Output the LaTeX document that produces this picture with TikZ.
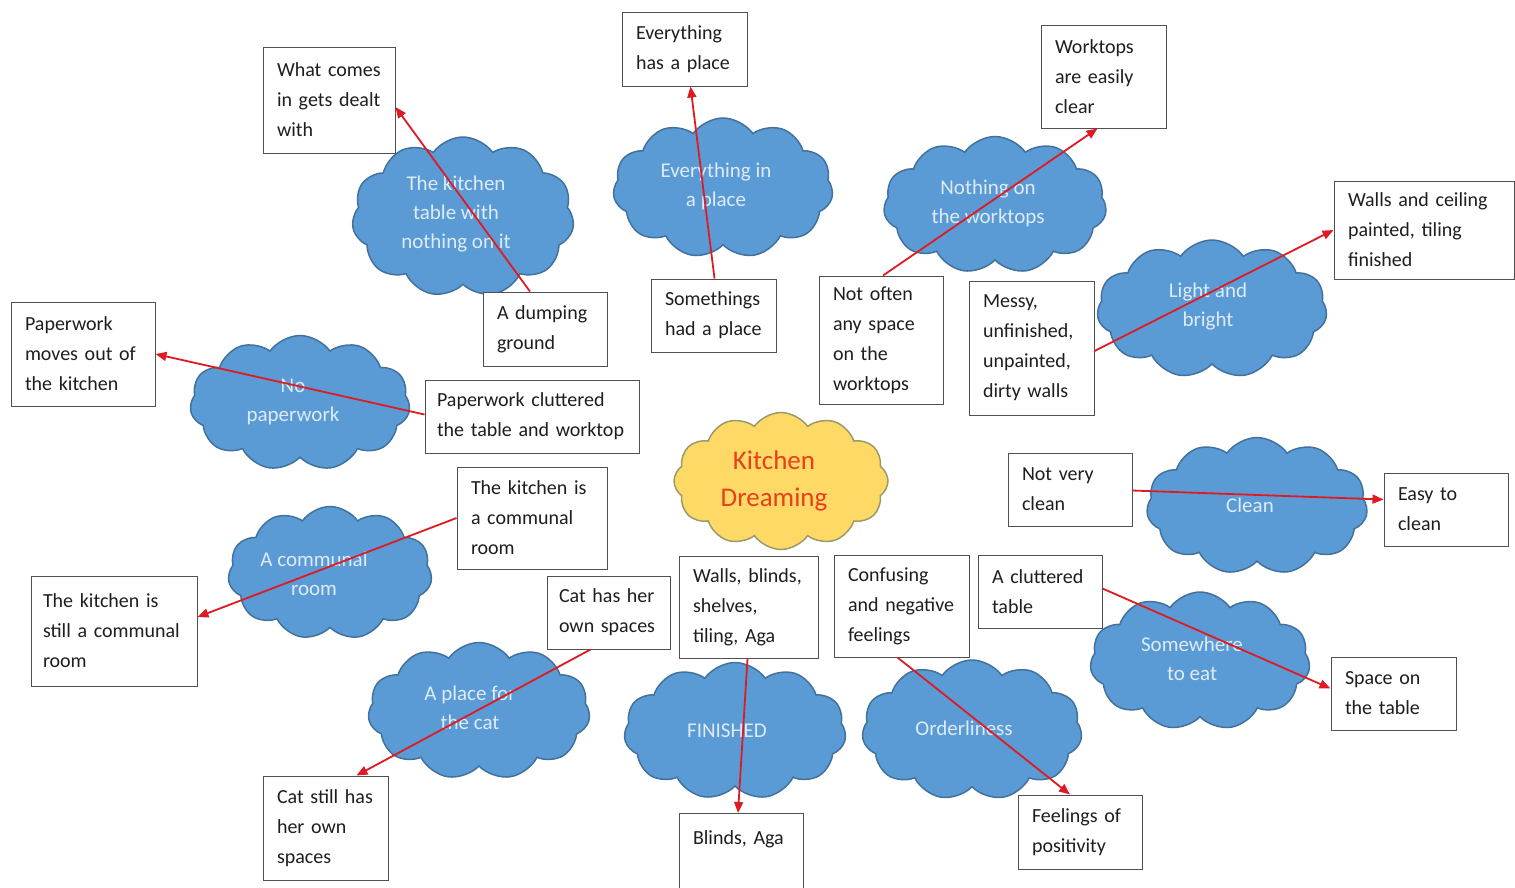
\documentclass[tikz,border=0pt]{standalone}
\usepackage{fontspec}
\setmainfont{Carlito}
\usetikzlibrary{shapes.symbols,arrows.meta}
\definecolor{cfill}{HTML}{5B9BD5}
\definecolor{cdraw}{HTML}{41719C}
\definecolor{ctxt}{HTML}{DEEBF7}
\definecolor{yfill}{HTML}{FFD966}
\definecolor{ydraw}{HTML}{9A9A6A}
\definecolor{ytxt}{HTML}{E8401C}
\definecolor{arr}{HTML}{DE1A22}
\definecolor{bdraw}{HTML}{505050}
\definecolor{btxt}{HTML}{1E1E1E}
\tikzset{
 bcloud/.style={cloud, cloud puffs=11, cloud puff arc=110, draw=cdraw, fill=cfill, line width=1.5pt, inner sep=0pt},
 ctext/.style={text=ctxt, font=\fontsize{21}{29}\selectfont, align=center, inner sep=0pt},
 ycloud/.style={cloud, cloud puffs=12, cloud puff arc=110, draw=ydraw, fill=yfill, line width=1.5pt, inner sep=0pt},
 ytext/.style={text=ytxt, font=\fontsize{27}{37}\selectfont, align=center, inner sep=0pt},
 tbox/.style={draw=bdraw, line width=1pt, fill=white, text=btxt, font=\fontsize{20}{30}\selectfont, align=left, inner xsep=14pt, inner ysep=0pt},
 link/.style={draw=arr, line width=1.8pt, -{Triangle[length=11pt,width=9pt]}},
}
\begin{document}
\begin{tikzpicture}[x=1pt,y=-1pt]
\useasboundingbox (0,0) rectangle (1515,887);
% clouds
\node[bcloud, minimum width=222pt, minimum height=160pt] (c1) at (463,217) {};
\node[ctext] (c1t) at (456,214) {The kitchen\\table with\\nothing on it};
\node[bcloud, minimum width=220pt, minimum height=140pt] (c2) at (723,188) {};
\node[ctext] (c2t) at (716,186) {Everything in\\a place};
\node[bcloud, minimum width=223pt, minimum height=137pt] (c3) at (995,205) {};
\node[ctext] (c3t) at (988,203) {Nothing on\\the worktops};
\node[bcloud, minimum width=230pt, minimum height=138pt] (c4) at (1212,309) {};
\node[ctext] (c4t) at (1208,307) {Light and\\bright};
\node[bcloud, minimum width=220pt, minimum height=135pt] (c5) at (300,403) {};
\node[ctext] (c5t) at (293,402) {No\\paperwork};
\node[bcloud, minimum width=221pt, minimum height=137pt] (c6) at (1257,506) {};
\node[ctext] (c6t) at (1250,505) {Clean};
\node[bcloud, minimum width=204pt, minimum height=133pt] (c7) at (330,573) {};
\node[ctext] (c7t) at (314,574) {A communal\\room};
\node[bcloud, minimum width=220pt, minimum height=138pt] (c8) at (1200,661) {};
\node[ctext] (c8t) at (1192,659) {Somewhere\\to eat};
\node[bcloud, minimum width=222pt, minimum height=137pt] (c9) at (479,711) {};
\node[ctext] (c9t) at (470,708) {A place for\\the cat};
\node[bcloud, minimum width=222pt, minimum height=137pt] (c10) at (735,731) {};
\node[ctext] (c10t) at (727,731) {FINISHED};
\node[bcloud, minimum width=220pt, minimum height=140pt] (c11) at (972,730) {};
\node[ctext] (c11t) at (964,728) {Orderliness};
\node[ycloud, minimum width=214pt, minimum height=137pt] (cy) at (781,481) {};
\node[ytext] (cyt) at (774,481) {Kitchen\\Dreaming};
% boxes
\node[tbox, minimum width=132pt, minimum height=106pt, text width=104pt] (what) at (329,100) {What comes\\in gets dealt\\with};
\node[tbox, minimum width=125pt, minimum height=74pt, text width=97pt] (every) at (684.5,49) {Everything\\has a place};
\node[tbox, minimum width=125pt, minimum height=103pt, text width=97pt] (work) at (1103.5,76.5) {Worktops\\are easily\\clear};
\node[tbox, minimum width=180pt, minimum height=98pt, text width=152pt] (walls) at (1424,230) {Walls and ceiling\\painted, tiling\\finished};
\node[tbox, minimum width=124pt, minimum height=74pt, text width=96pt] (dump) at (545,329) {A dumping\\ground};
\node[tbox, minimum width=125pt, minimum height=73pt, text width=97pt] (some) at (713.5,315.5) {Somethings\\had a place};
\node[tbox, minimum width=124pt, minimum height=128pt, text width=96pt] (notoften) at (881,340) {Not often\\any space\\on the\\worktops};
\node[tbox, minimum width=125pt, minimum height=134pt, text width=97pt] (messy) at (1031.5,348) {Messy,\\unfinished,\\unpainted,\\dirty walls};
\node[tbox, minimum width=144pt, minimum height=104pt, text width=116pt] (paper) at (83,354) {Paperwork\\moves out of\\the kitchen};
\node[tbox, minimum width=214pt, minimum height=73pt, text width=190pt, inner xsep=12pt] (clutter) at (532,416.5) {Paperwork cluttered\\the table and worktop};
\node[tbox, minimum width=124pt, minimum height=73pt, text width=96pt] (notvery) at (1070,489.5) {Not very\\clean};
\node[tbox, minimum width=124pt, minimum height=73pt, text width=96pt] (easy) at (1446,509.5) {Easy to\\clean};
\node[tbox, minimum width=150pt, minimum height=102pt, text width=122pt] (communal) at (532,518) {The kitchen is\\a communal\\room};
\node[tbox, minimum width=166pt, minimum height=110pt, text width=142pt, inner xsep=12pt] (still) at (114,631) {The kitchen is\\still a communal\\room};
\node[tbox, minimum width=123pt, minimum height=73pt, text width=99pt, inner xsep=12pt] (cathas) at (608.5,612.5) {Cat has her\\own spaces};
\node[tbox, minimum width=139pt, minimum height=102pt, text width=111pt] (wallsb) at (748.5,607) {Walls, blinds,\\shelves,\\tiling, Aga};
\node[tbox, minimum width=135pt, minimum height=102pt, text width=107pt] (confus) at (901.5,606) {Confusing\\and negative\\feelings};
\node[tbox, minimum width=124pt, minimum height=73pt, text width=96pt] (acl) at (1040,591.5) {A cluttered\\table};
\node[tbox, minimum width=125pt, minimum height=73pt, text width=97pt] (space) at (1393.5,693.5) {Space on\\the table};
\node[tbox, minimum width=125pt, minimum height=104pt, text width=97pt] (catstill) at (325.5,828) {Cat still has\\her own\\spaces};
\node[tbox, anchor=north, minimum width=124pt, text width=96pt, inner ysep=17pt, text depth=50pt] (blinds) at (741,813) {Blinds, Aga};
\node[tbox, minimum width=124pt, minimum height=74pt, text width=96pt] (feel) at (1080,832) {Feelings of\\positivity};
% connectors
\draw[link] ([xshift=-15pt]dump.north) -- ([yshift=-7pt]what.east);
\draw[link] ([xshift=1pt]some.north) -- ([xshift=6pt]every.south);
\draw[link] ([xshift=2pt]notoften.north) -- ([xshift=-6pt]work.south);
\draw[link] ([yshift=-3pt]messy.east) -- (walls.west);
\draw[link] ([yshift=2pt]clutter.west) -- (paper.east);
\draw[link] ([yshift=-1pt]notvery.east) -- ([yshift=10pt]easy.west);
\draw[link] (communal.west) -- ([yshift=14pt]still.east);
\draw[link] ([xshift=-18pt]cathas.south) -- ([xshift=31pt]catstill.north);
\draw[link] ([xshift=-1pt]wallsb.south) -- ([xshift=-3pt]blinds.north);
\draw[link] ([xshift=-4pt]confus.south) -- ([xshift=-10pt]feel.north);
\draw[link] ([yshift=3pt]acl.east) -- ([yshift=5pt]space.west);
\end{tikzpicture}
\end{document}
